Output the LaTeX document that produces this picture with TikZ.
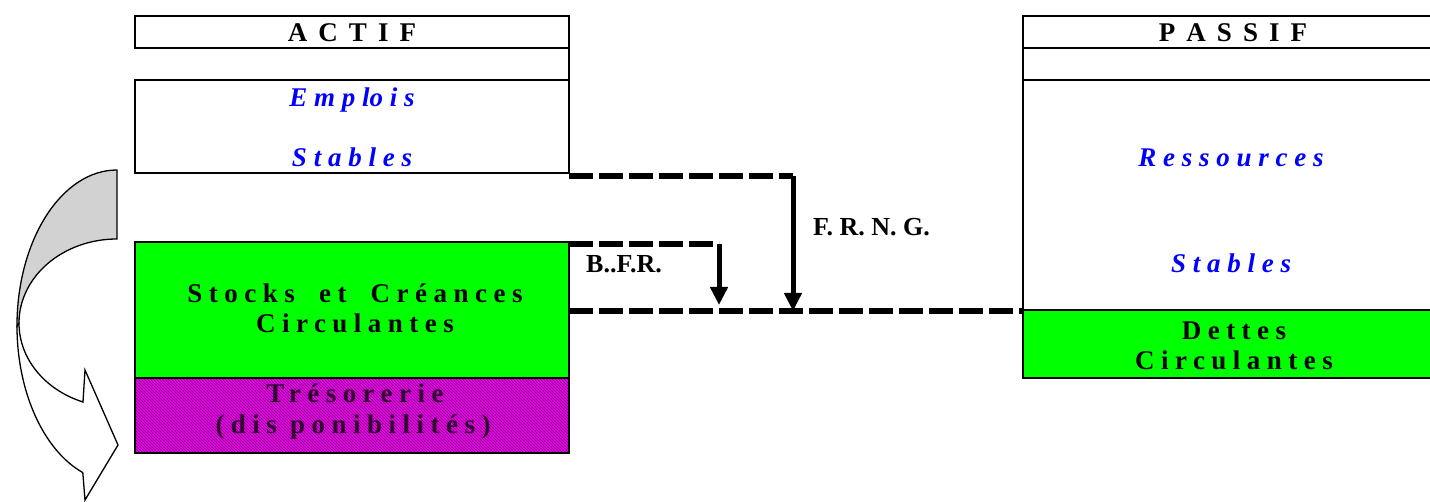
\documentclass[tikz,border=0pt]{standalone}
\usepackage{fontspec}
\setmainfont{Liberation Serif}
\newfontfamily\widefont[LetterSpace=24]{Liberation Serif}
\newfontfamily\hdrfont[LetterSpace=16]{Liberation Serif}
\newfontfamily\bluefont[LetterSpace=0]{Liberation Serif}
\usetikzlibrary{arrows.meta,patterns}
\definecolor{vert}{RGB}{0,255,0}
\definecolor{bleu}{RGB}{0,0,255}
\definecolor{mag}{RGB}{235,0,235}
\definecolor{darkmag}{RGB}{120,0,120}
\definecolor{tresotext}{RGB}{45,0,45}
\definecolor{arrgray}{RGB}{210,210,210}
\tikzset{
  box/.style={draw, line width=1.5pt, minimum width=434pt, anchor=north west, inner sep=0pt, outer sep=0pt},
  rule/.style={line width=1.5pt},
  hdr/.style={font=\hdrfont\fontsize{27}{32}\selectfont\bfseries, anchor=base, inner sep=0pt},
  bl/.style={font=\bluefont\fontsize{27}{32}\selectfont\bfseries\itshape, text=bleu, anchor=base, inner sep=0pt},
  wide/.style={font=\widefont\fontsize{27}{32}\selectfont\bfseries, anchor=base, inner sep=0pt},
  lbl/.style={font=\fontsize{26}{31}\selectfont\bfseries, anchor=base west, inner sep=0pt},
  dashl/.style={line width=6pt, dash pattern=on 24pt off 6pt},
  arr/.style={line width=5pt, -{Triangle[length=18pt,width=17pt]}},
  curvedge/.style={line width=1.3pt, line join=miter},
  treso/.style={preaction={fill=mag}, pattern=north west lines, pattern color=darkmag}
}
\begin{document}
\begin{tikzpicture}[x=1pt,y=-1pt]
\useasboundingbox (0,0) rectangle (1430,502);
% curved arrow on the left
\filldraw[curvedge, fill=white] (17,326) arc[start angle=180,end angle=110,x radius=100,y radius=156]
  -- (85,500) -- (118,445) -- (85,370) -- (83,402)
  arc[start angle=110.3,end angle=180,x radius=98,y radius=84] -- cycle;
\filldraw[curvedge, fill=arrgray] (117,170) arc[start angle=270,end angle=180,x radius=100,y radius=156]
  -- (19,323) arc[start angle=180,end angle=270,x radius=98,y radius=84] -- cycle;
% ACTIF
\node[box, minimum height=32pt] (actifH) at (135,16) {};
\node[hdr] (actifT) at (352,42) {A C T I F};
\node[box, minimum height=93pt] (emplois) at (135,80) {};
\draw[rule] (actifH.south east) -- (emplois.north east);
\node[bl] (empT) at (352,107) {E m p lo i s};
\node[bl] (stabT) at (352,167) {S t a b l e s};
\node[box, fill=vert, minimum height=136pt] (stocks) at (135,242) {};
\node[wide] (stocksT) at (355,303) {Stocks\hspace{11pt} et\hspace{11pt} Créances};
\node[wide] (circT) at (355,333) {Circulantes};
\node[box, treso, minimum height=75pt] (treso) at (135,378) {};
\node[wide, text=tresotext] (tresoT) at (355,403) {Trésorerie};
\node[wide, text=tresotext] (dispoT) at (353,434) {(dis ponibilités)};
% PASSIF
\node[box, minimum width=420pt, minimum height=32pt] (passifH) at (1023,16) {};
\node[hdr] (passifT) at (1233,42) {P A S S I F};
\coordinate (passifL) at (1023,80);
\coordinate (passifR) at (1443,80);
\draw[rule] (passifL) -- (passifR);
\node[bl] (ressT) at (1231,167) {R e s s o u r c e s};
\node[bl] (stab2T) at (1231,273) {S t a b l e s};
\node[box, fill=vert, minimum width=420pt, minimum height=68pt] (dettes) at (1023,310) {};
\draw[rule] (passifH.north west) -- (dettes.south west);
\node[wide] (dettesT) at (1234,340) {Dettes};
\node[wide] (circ2T) at (1234,370) {Circulantes};
% connectors
\coordinate (frngTop) at (793,176);
\coordinate (frngTip) at (793,311);
\coordinate (bfrTop) at (719,244);
\coordinate (bfrTip) at (719,305);
\draw[dashl] (emplois.south east |- frngTop) -- (frngTop);
\draw[arr] (frngTop) -- (frngTip);
\draw[dashl] (stocks.north east |- bfrTop) -- (bfrTop);
\draw[arr] (bfrTop) -- (bfrTip);
\draw[dashl] (stocks.east |- frngTip) -- (dettes.north west |- frngTip);
\node[lbl] (frngL) at (813,236) {F. R. N. G.};
\node[lbl] (bfrL) at (586,273) {B..F.R.};
\end{tikzpicture}
\end{document}
